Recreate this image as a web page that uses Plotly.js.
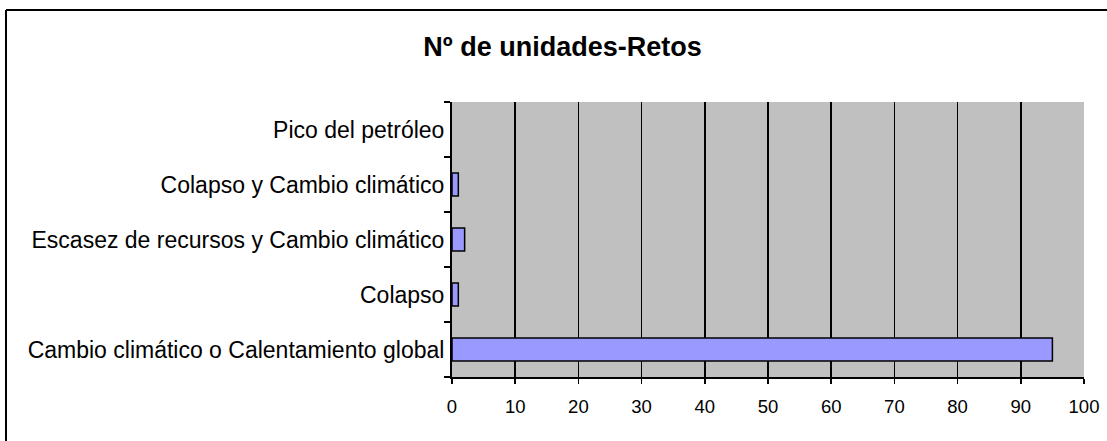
<!DOCTYPE html>
<html>
<head>
<meta charset="utf-8">
<script src="https://cdn.plot.ly/plotly-3.0.1.min.js"></script>
<style>
html,body{margin:0;padding:0;background:#fff;}
#chart{width:1107px;height:441px;}
</style>
</head>
<body>
<div id="chart"></div>
<script>
const categories = [
  "Cambio climático o Calentamiento global",
  "Colapso",
  "Escasez de recursos y Cambio climático",
  "Colapso y Cambio climático",
  "Pico del petróleo"
];
const values = [95, 1, 2, 1, 0];
const xTickValues = [0, 10, 20, 30, 40, 50, 60, 70, 80, 90, 100];
const chartTitle = "Nº de unidades-Retos";

const W = 1107, H = 441;
const m = {l: 452, r: 23, t: 102, b: 64};
const pw = W - m.l - m.r, ph = H - m.t - m.b;
// outer frame position in pixels -> paper coords
const fx = (6 - m.l) / pw;
const fy = (H - m.b - 10) / ph;

const trace = {
  type: 'bar',
  orientation: 'h',
  x: values,
  y: categories,
  marker: {color: '#9999FF', line: {color: '#000000', width: values.map(v => v === 0 ? 0 : 1.5)}},
  width: 0.42,
  hoverinfo: 'x+y'
};

const layout = {
  width: W, height: H,
  margin: m,
  paper_bgcolor: '#FFFFFF',
  plot_bgcolor: '#C0C0C0',
  showlegend: false,
  font: {family: 'Liberation Sans, Arial, sans-serif', color: '#000000'},
  title: {
    text: '<b>' + chartTitle + '</b>',
    font: {size: 27, family: 'Liberation Sans, Arial, sans-serif', color: '#000'},
    x: 562.5 / W, xanchor: 'center', xref: 'container',
    y: 1 - 47 / H, yanchor: 'middle', yref: 'container'
  },
  xaxis: {
    range: [0, 100],
    tickvals: xTickValues,
    ticktext: xTickValues.map(String),
    showgrid: true, gridcolor: '#000000', gridwidth: 1.5,
    showline: true, linecolor: '#000000', linewidth: 2,
    ticks: 'outside', ticklen: 5, tickwidth: 1.5, tickcolor: '#000',
    tickfont: {size: 18.5},
    ticklabelstandoff: 7,
    zeroline: false,
    fixedrange: true
  },
  yaxis: {
    type: 'category',
    categoryorder: 'array', categoryarray: categories,
    tickson: 'boundaries',
    showgrid: false,
    showline: true, linecolor: '#000000', linewidth: 2,
    ticks: 'outside', ticklen: 6, tickwidth: 1.5, tickcolor: '#000',
    tickfont: {size: 23},
    ticklabelstandoff: 1,
    zeroline: false,
    fixedrange: true
  },
  shapes: [
    {type: 'line', xref: 'paper', yref: 'paper', x0: fx, x1: 1.2, y0: fy, y1: fy, line: {color: '#000', width: 2}},
    {type: 'line', xref: 'paper', yref: 'paper', x0: fx, x1: fx, y0: fy, y1: -0.5, line: {color: '#000', width: 2}}
  ]
};

Plotly.newPlot('chart', [trace], layout, {displayModeBar: false, staticPlot: true});
</script>
</body>
</html>
